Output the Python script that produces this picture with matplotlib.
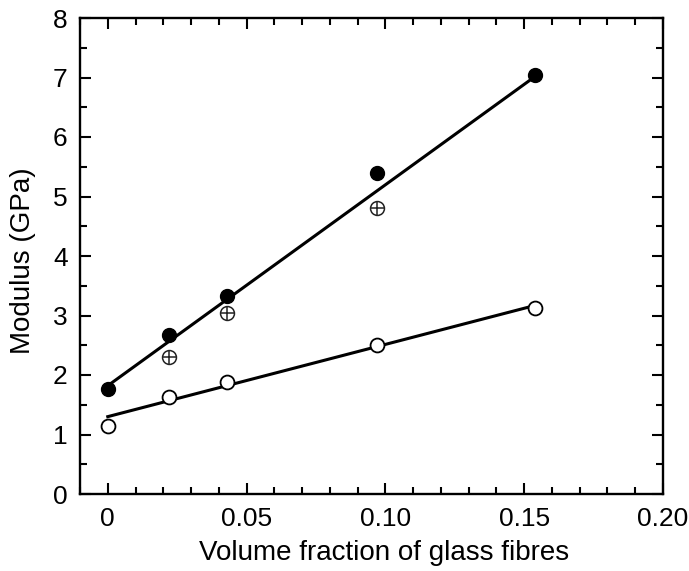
"""Modulus vs volume fraction of glass fibres."""

import matplotlib
matplotlib.use("Agg")
import matplotlib.pyplot as plt
from matplotlib.ticker import MultipleLocator

plt.rcParams["font.family"] = ["Liberation Sans", "DejaVu Sans"]

# Data
vf_all = [0.0, 0.022, 0.043, 0.097, 0.154]
mod_filled = [1.76, 2.67, 3.33, 5.39, 7.05]
mod_open = [1.14, 1.63, 1.88, 2.51, 3.13]

vf_crossed = [0.022, 0.043, 0.097]
mod_crossed = [2.31, 3.05, 4.80]

# fitted lines (endpoints)
fit_x = [0.0, 0.154]
fit_upper = [1.82, 7.02]
fit_lower = [1.30, 3.17]

fig = plt.figure(figsize=(6.89, 5.71), dpi=100)
ax = fig.add_axes([80 / 689, 1 - 494 / 571, (663 - 80) / 689, (494 - 18) / 571])

ax.plot(fit_x, fit_upper, color="black", linewidth=2.2, zorder=2)
ax.plot(fit_x, fit_lower, color="black", linewidth=2.2, zorder=2)

ax.plot(vf_all, mod_filled, "o", color="black", markersize=10, linestyle="none", zorder=3)
ax.plot(vf_all, mod_open, "o", markerfacecolor="white", markeredgecolor="black",
        markeredgewidth=1.3, markersize=10, linestyle="none", zorder=3)
ax.plot(vf_crossed, mod_crossed, "o", markerfacecolor="white", markeredgecolor="#222222",
        markeredgewidth=1.1, markersize=10, linestyle="none", zorder=3)
ax.plot(vf_crossed, mod_crossed, "+", color="#222222", markeredgewidth=1.1,
        markersize=10, linestyle="none", zorder=4)

ax.set_xlim(-0.01, 0.20)
ax.set_ylim(0, 8)
ax.xaxis.set_major_locator(MultipleLocator(0.05))
ax.xaxis.set_minor_locator(MultipleLocator(0.01))
ax.yaxis.set_major_locator(MultipleLocator(1))
ax.yaxis.set_minor_locator(MultipleLocator(0.5))
ax.set_xticks([0, 0.05, 0.10, 0.15, 0.20])
ax.set_xticklabels(["0", "0.05", "0.10", "0.15", "0.20"])

ax.tick_params(which="both", direction="in", top=True, right=True, width=1.5,
               labelsize=19, colors="black")
ax.tick_params(which="major", length=8, pad=9)
ax.tick_params(which="minor", length=5)
for sp in ax.spines.values():
    sp.set_linewidth(1.7)

ax.set_xlabel("Volume fraction of glass fibres", fontsize=20)
ax.set_ylabel("Modulus (GPa)", fontsize=20)
ax.xaxis.set_label_coords(0.522, -0.097)
ax.yaxis.set_label_coords(-0.076, 0.49)

fig.savefig("out.png", dpi=100)
